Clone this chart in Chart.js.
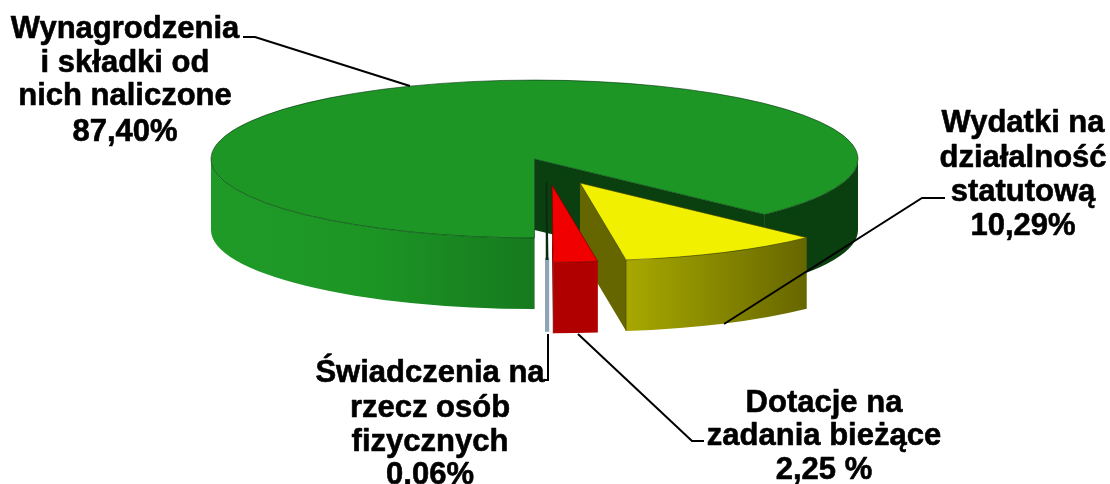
<!DOCTYPE html>
<html lang="pl">
<head>
<meta charset="utf-8">
<style>html,body{margin:0;padding:0;background:#fff}canvas{display:block}</style>
<script src="https://cdn.jsdelivr.net/npm/chart.js@4"></script>
</head>
<body>
<canvas id="c" width="1110" height="484"></canvas>
<script>
const categories = ['Wynagrodzenia i składki od nich naliczone', 'Wydatki na działalność statutową', 'Dotacje na zadania bieżące', 'Świadczenia na rzecz osób fizycznych'];
const values = [87.40, 10.29, 2.25, 0.06];
const valueLabels = ['87,40%', '10,29%', '2,25 %', '0,06%'];
const categoryLines = [
  ['Wynagrodzenia', 'i składki od', 'nich naliczone'],
  ['Wydatki na', 'działalność', 'statutową'],
  ['Dotacje na', 'zadania bieżące'],
  ['Świadczenia na', 'rzecz osób', 'fizycznych']
];
const topColors = ['#1e9626', '#f0f000', '#f00000', '#8fa5b5'];

const view = {cx: 534.5, cy: 159, squash: 0.244, depth: 71};
const sliceStyles = [
  {dx: 0, dy: 0, k: 1, wall: [[0, '#1f9a27'], [0.25, '#1d9525'], [0.4, '#188420'], [0.4995, '#167a1e'], [0.5, '#0a400f'], [1, '#0a400f']], face: '#0a400f', edge: 'rgba(0,50,10,.75)'},
  {dx: 45.5, dy: 24, k: 0.985, wall: [[0, '#a8a800'], [1, '#666600']], face: '#666600', edge: 'rgba(70,70,0,.8)'},
  {dx: 17.5, dy: 26, k: 0.98, wall: [[0, '#b00000'], [1, '#b00000']], face: '#b00000', edge: 'rgba(110,0,0,.8)'},
  {dx: 12, dy: 23, k: 0.98, wall: [[0, '#8fa5b5'], [1, '#8fa5b5']], face: '#8fa5b5', edge: '#0a2a12', hair: true}
];
const labelStyles = [
  {x: 125, ys: [38, 72, 105, 141]},
  {x: 1023, ys: [132, 167, 201, 235]},
  {x: 824, ys: [412, 445, 479]},
  {x: 430, ys: [382, 417, 451, 484]}
];
const leaders = [
  [[243, 37], [255, 37], [410, 86]],
  [[945, 198], [922, 198], [724, 324]],
  [[578, 334], [692, 441], [704, 441]],
  [[548, 334], [548, 380], [544, 380]]
];

const TAU = Math.PI * 2;
const pie3d = {
  id: 'pie3d',
  beforeDatasetsDraw(chart) {
    const ctx = chart.ctx;
    const arcs = chart.getDatasetMeta(0).data;
    arcs.forEach((arc, i) => {
      const st = sliceStyles[i];
      const R = arc.outerRadius * st.k;
      const ry = R * view.squash;
      const cx = view.cx + st.dx, cy = view.cy + st.dy;
      const d = view.depth;
      const a0 = arc.startAngle, a1 = arc.endAngle;
      const px = a => cx + Math.cos(a) * R, py = a => cy + Math.sin(a) * ry;

      // outer wall: the parts of the slice on the front half of the ellipse
      [[0, Math.PI], [TAU, TAU + Math.PI]].forEach(([lo, hi]) => {
        const s = Math.max(a0, lo), e = Math.min(a1, hi);
        if (e <= s) return;
        let gx0, gx1;
        if (i === 0) { gx0 = cx - R; gx1 = cx + R; }
        else { gx0 = Math.min(px(s), px(e)); gx1 = Math.max(px(s), px(e)); }
        const g = ctx.createLinearGradient(gx0, 0, gx1 + 0.01, 0);
        st.wall.forEach(([o, c]) => g.addColorStop(o, c));
        ctx.beginPath();
        ctx.ellipse(cx, cy, R, ry, 0, s, e, false);
        ctx.ellipse(cx, cy + d, R, ry, 0, e, s, true);
        ctx.closePath();
        ctx.fillStyle = g;
        ctx.fill();
        if (st.hair) { ctx.strokeStyle = st.face; ctx.lineWidth = 3; ctx.stroke(); }
      });

      // cut face at the clockwise end of the slice
      ctx.beginPath();
      ctx.moveTo(cx, cy);
      ctx.lineTo(px(a1), py(a1));
      ctx.lineTo(px(a1), py(a1) + d);
      ctx.lineTo(cx, cy + d);
      ctx.closePath();
      ctx.fillStyle = st.face;
      ctx.fill();
      ctx.strokeStyle = st.edge;
      ctx.lineWidth = st.hair ? 1.5 : 0.8;
      if (!st.hair) {
        ctx.beginPath();
        ctx.moveTo(px(a1), py(a1));
        ctx.lineTo(px(a1), py(a1) + d);
        ctx.stroke();
      }

      // top face: the library's own arc element, flattened and moved
      ctx.save();
      ctx.translate(cx, cy);
      ctx.scale(st.k, st.k * view.squash);
      ctx.translate(-arc.x, -arc.y);
      arc.draw(ctx);
      ctx.restore();

      // thin outline of the top face
      ctx.beginPath();
      ctx.moveTo(cx, cy);
      ctx.ellipse(cx, cy, R, ry, 0, a0, a1, false);
      ctx.closePath();
      ctx.stroke();
    });
    return false;
  },
  afterDraw(chart) {
    const ctx = chart.ctx;
    ctx.save();
    ctx.strokeStyle = '#000';
    ctx.lineWidth = 2;
    leaders.forEach(pts => {
      ctx.beginPath();
      pts.forEach(([x, y], j) => j ? ctx.lineTo(x, y) : ctx.moveTo(x, y));
      ctx.stroke();
    });
    ctx.fillStyle = '#000';
    ctx.lineWidth = 0.6;
    ctx.lineJoin = 'round';
    ctx.font = 'bold 31px "Liberation Sans", Arial, sans-serif';
    ctx.textAlign = 'center';
    ctx.textBaseline = 'alphabetic';
    categoryLines.forEach((lines, i) => {
      const ls = labelStyles[i];
      lines.concat(valueLabels[i]).forEach((t, j) => {
        ctx.fillText(t, ls.x, ls.ys[j]);
        ctx.strokeText(t, ls.x, ls.ys[j]);
      });
    });
    ctx.restore();
  }
};

new Chart(document.getElementById('c'), {
  type: 'pie',
  data: {
    labels: categories,
    datasets: [{data: values, backgroundColor: topColors, borderWidth: 0, radius: 323.5, clip: false}]
  },
  options: {
    responsive: false,
    animation: false,
    rotation: 180,
    layout: {padding: 0},
    plugins: {legend: {display: false}, tooltip: {enabled: false}, title: {display: false}}
  },
  plugins: [pie3d]
});
</script>
</body>
</html>
